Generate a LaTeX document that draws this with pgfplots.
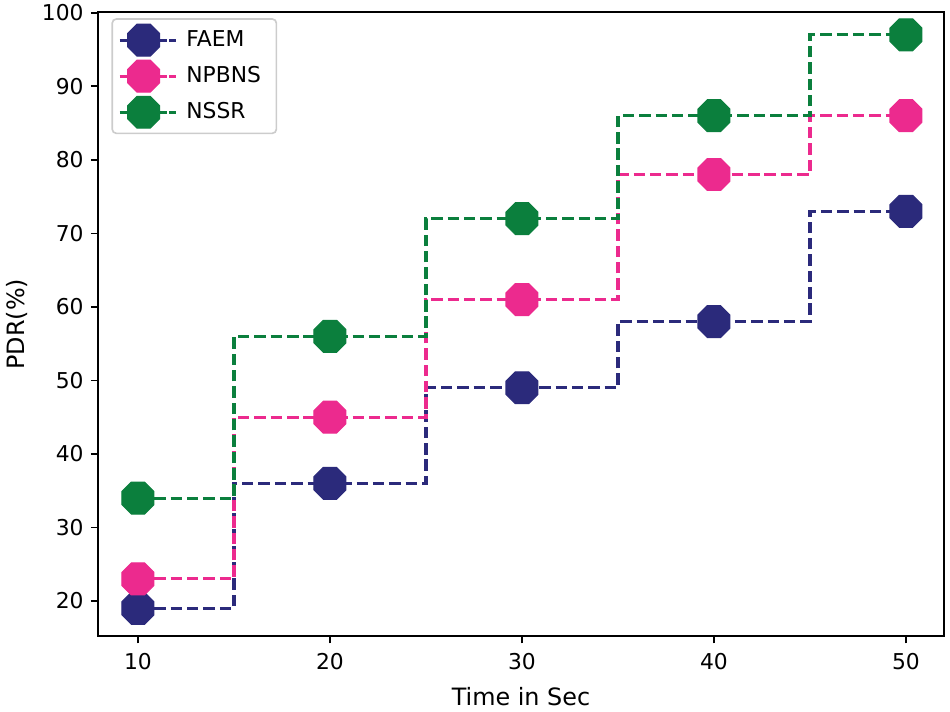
\documentclass[border=0pt]{standalone}
\usepackage{fontspec}
\setmainfont{DejaVu Sans}
\usepackage{pgfplots}
\pgfplotsset{compat=1.18}

\definecolor{cfaem}{HTML}{2B2A7B}
\definecolor{cnpbns}{HTML}{EC2A8E}
\definecolor{cnssr}{HTML}{0B7F3D}

% octagon marker, flat top and sides
\pgfdeclareplotmark{oct}{%
  \pgfpathmoveto{\pgfqpointpolar{22.5}{\pgfplotmarksize}}%
  \pgfpathlineto{\pgfqpointpolar{67.5}{\pgfplotmarksize}}%
  \pgfpathlineto{\pgfqpointpolar{112.5}{\pgfplotmarksize}}%
  \pgfpathlineto{\pgfqpointpolar{157.5}{\pgfplotmarksize}}%
  \pgfpathlineto{\pgfqpointpolar{202.5}{\pgfplotmarksize}}%
  \pgfpathlineto{\pgfqpointpolar{247.5}{\pgfplotmarksize}}%
  \pgfpathlineto{\pgfqpointpolar{292.5}{\pgfplotmarksize}}%
  \pgfpathlineto{\pgfqpointpolar{337.5}{\pgfplotmarksize}}%
  \pgfpathclose
  \pgfusepathqfillstroke
}

\begin{document}
\begin{tikzpicture}
\def\u{0.486pt}
\begin{axis}[
  name=ax,
  scale only axis,
  width=411pt, height=303.3pt,
  xmin=7.92, xmax=51.98,
  ymin=15.2, ymax=100.1,
  xtick={10,20,30,40,50},
  ytick={20,30,40,50,60,70,80,90,100},
  axis line style={line width=0.8pt},
  tick style={line width=0.8pt, black},
  tick align=outside,
  major tick length=3.5pt,
  xtick pos=bottom, ytick pos=left,
  tick label style={font=\fontsize{10.6}{12}\selectfont},
  xticklabel style={yshift=-1pt},
  /pgf/number format/assume math mode=true,
  xlabel={Time in Sec},
  ylabel={PDR(\%)},
  label style={font=\fontsize{11.6}{13}\selectfont},
  xlabel style={yshift=-2pt},
  ylabel style={yshift=0pt},
  every axis plot/.append style={const plot mark mid, line width=1.5pt,
    dash pattern=on 5.55pt off 2.4pt, mark=oct, mark size=8.4pt},
  legend cell align=left,
  legend style={at={(0,1)}, anchor=north west, xshift=6.5pt, yshift=-3pt,
    draw=black!20, rounded corners=2pt, line width=0.8pt,
    font=\fontsize{10.6}{13}\selectfont, inner xsep=3pt, inner ysep=2.5pt,
    row sep=2pt, nodes={inner xsep=4.5pt}},
  legend image code/.code={
    \draw[#1, solid, line width=1.5pt] (0pt,0pt) -- (23pt,0pt);
    \draw[#1, solid] plot coordinates {(11.5pt,0pt)};
    \path (0pt,0pt) -- (27pt,0pt);
  },
]
\addplot[color=cfaem, mark options={solid, line width=0.5pt, fill=cfaem}] coordinates {(10,19) (20,36) (30,49) (40,58) (50,73)};
\addlegendentry{FAEM}
\addplot[color=cnpbns, mark options={solid, line width=0.5pt, fill=cnpbns}] coordinates {(10,23) (20,45) (30,61) (40,78) (50,86)};
\addlegendentry{NPBNS}
\addplot[color=cnssr, mark options={solid, line width=0.5pt, fill=cnssr}] coordinates {(10,34) (20,56) (30,72) (40,86) (50,97)};
\addlegendentry{NSSR}
\end{axis}
\pgfresetboundingbox
\path[use as bounding box] ([shift={(-98*\u,-75*\u)}]ax.south west) rectangle ([shift={(6*\u,12*\u)}]ax.north east);
\end{tikzpicture}
\end{document}
